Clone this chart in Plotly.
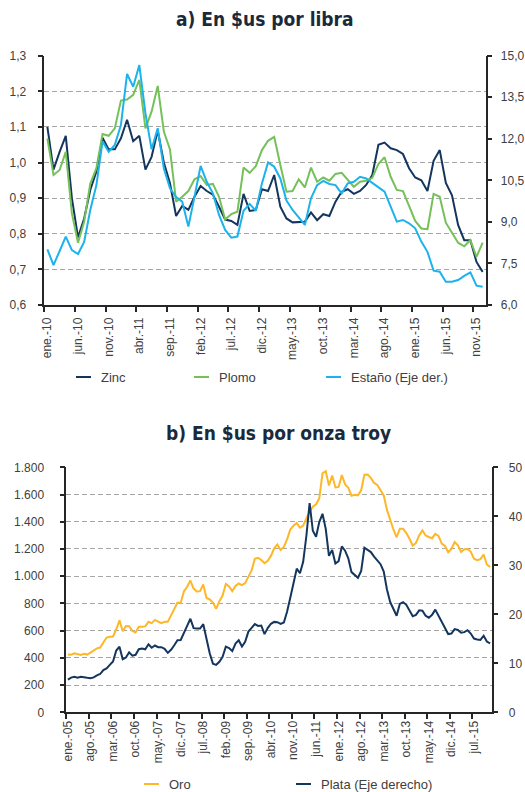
import plotly.graph_objects as go

# ---------------- Data: a) En $us por libra (ene-10 .. dic-15, monthly) ----------------
zinc = [1.10, 0.98, 1.03, 1.075, 0.90, 0.79, 0.843, 0.923, 0.975, 1.07, 1.037, 1.037,
        1.068, 1.12, 1.06, 1.075, 0.98, 1.016, 1.09, 1.00, 0.942, 0.85, 0.878, 0.867,
        0.904, 0.934, 0.92, 0.91, 0.876, 0.84, 0.836, 0.825, 0.912, 0.864, 0.867, 0.925,
        0.92, 0.965, 0.876, 0.843, 0.832, 0.834, 0.834, 0.86, 0.838, 0.855, 0.85, 0.89,
        0.918, 0.925, 0.912, 0.92, 0.937, 0.965, 1.05, 1.056, 1.04, 1.035, 1.024, 0.984,
        0.958, 0.95, 0.92, 1.005, 1.035, 0.943, 0.908, 0.825, 0.782, 0.782, 0.721, 0.693]
plomo = [1.068, 0.965, 0.979, 1.03, 0.857, 0.775, 0.834, 0.941, 0.984, 1.08, 1.075, 1.096,
         1.174, 1.177, 1.19, 1.232, 1.096, 1.143, 1.215, 1.087, 1.037, 0.89, 0.904, 0.92,
         0.953, 0.962, 0.937, 0.94, 0.904, 0.84, 0.855, 0.862, 0.986, 0.971, 0.99, 1.035,
         1.061, 1.072, 0.993, 0.918, 0.92, 0.953, 0.93, 0.986, 0.946, 0.958, 0.949, 0.968,
         0.971, 0.95, 0.932, 0.946, 0.949, 0.957, 0.996, 1.015, 0.96, 0.923, 0.92, 0.878,
         0.836, 0.815, 0.813, 0.912, 0.904, 0.831, 0.803, 0.775, 0.765, 0.782, 0.735, 0.775]
estano = [8.01, 7.44, 7.95, 8.47, 7.98, 7.84, 8.28, 9.43, 10.33, 11.9, 11.53, 11.78,
          12.5, 14.34, 13.88, 14.66, 12.92, 11.62, 12.38, 10.93, 10.21, 9.9, 9.73, 8.83,
          9.91, 11.02, 10.45, 10.03, 9.25, 8.71, 8.43, 8.47, 9.4, 9.65, 9.4, 10.39,
          11.15, 10.99, 10.57, 9.77, 9.43, 9.15, 8.89, 9.85, 10.33, 10.48, 10.37, 10.33,
          10.03, 10.39, 10.45, 10.63, 10.57, 10.41, 10.25, 10.09, 9.55, 9.01, 9.07, 8.95,
          8.77, 8.29, 7.92, 7.24, 7.2, 6.84, 6.84, 6.9, 7.05, 7.18, 6.7, 6.66]
ticks_a = ["ene.-10", "jun.-10", "nov.-10", "abr.-11", "sep.-11", "feb.-12", "jul.-12",
           "dic.-12", "may.-13", "oct.-13", "mar.-14", "ago.-14", "ene.-15", "jun.-15", "nov.-15"]

# ---------------- Data: b) En $us por onza troy (ene-05 .. dic-15, monthly) ----------------
oro = [424, 423, 434, 429, 422, 430, 424, 438, 456, 470, 476, 510,
       549, 555, 557, 610, 676, 596, 633, 632, 598, 586, 628, 629,
       631, 665, 655, 679, 667, 655, 665, 665, 712, 754, 806, 803,
       889, 922, 968, 909, 888, 890, 939, 839, 829, 806, 760, 816,
       858, 943, 924, 890, 928, 946, 934, 949, 996, 1043, 1127, 1135,
       1118, 1095, 1113, 1149, 1205, 1233, 1193, 1215, 1271, 1343, 1370, 1391,
       1356, 1372, 1424, 1474, 1510, 1528, 1572, 1756, 1772, 1666, 1739, 1652,
       1656, 1743, 1675, 1649, 1591, 1598, 1594, 1631, 1745, 1747, 1722, 1685,
       1671, 1627, 1593, 1487, 1414, 1343, 1286, 1349, 1349, 1317, 1275, 1225,
       1244, 1300, 1336, 1299, 1288, 1279, 1311, 1296, 1239, 1222, 1176, 1201,
       1251, 1227, 1179, 1198, 1199, 1181, 1128, 1117, 1125, 1159, 1086, 1068]
plata = [6.68, 7.08, 7.26, 7.07, 7.25, 7.22, 7.04, 6.96, 7.13, 7.55, 7.81, 8.62,
         8.97, 9.67, 10.37, 12.60, 13.38, 10.83, 11.17, 12.25, 11.56, 11.73, 12.88, 13.02,
         12.85, 13.88, 13.17, 13.63, 13.29, 13.28, 12.94, 12.13, 12.75, 13.69, 14.72, 14.76,
         16.06, 17.65, 19.09, 17.18, 17.08, 17.10, 17.98, 14.87, 12.06, 9.93, 9.69, 10.31,
         11.33, 13.40, 13.12, 12.50, 14.04, 14.70, 13.42, 14.38, 16.47, 17.21, 17.99, 17.62,
         17.71, 15.95, 17.18, 18.07, 18.45, 18.39, 18.04, 18.32, 20.52, 23.36, 26.51, 29.31,
         28.37, 30.72, 36.03, 42.70, 37.05, 35.81, 38.81, 40.51, 37.45, 31.94, 33.14, 30.36,
         30.86, 33.84, 32.98, 31.42, 28.61, 28.02, 27.45, 28.85, 33.58, 33.14, 32.70, 31.76,
         31.06, 30.22, 28.71, 25.07, 22.50, 21.04, 19.71, 22.13, 22.49, 21.93, 20.78, 19.62,
         19.87, 20.81, 20.72, 19.71, 19.30, 19.89, 20.95, 19.73, 18.41, 17.14, 15.97, 16.08,
         16.99, 16.80, 16.25, 16.36, 16.75, 16.08, 15.05, 14.86, 14.79, 15.63, 14.45, 14.06]
ticks_b = ["ene.-05", "ago.-05", "mar.-06", "oct.-06", "may.-07", "dic.-07", "jul.-08",
           "feb.-09", "sep.-09", "abr.-10", "nov.-10", "jun.-11", "ene.-12", "ago.-12",
           "mar.-13", "oct.-13", "may.-14", "dic.-14", "jul.-15"]

# ---------------- Styles ----------------
C_ZINC = "#14365E"
C_PLOMO = "#76C05A"
C_ESTANO = "#1CB3EC"
C_ORO = "#FDB727"
C_PLATA = "#14365E"
AX = "#262626"
GRID = "#A6A6A6"
TXT = "#404040"
FONT = "Arial, Liberation Sans, sans-serif"
TFONT = "DejaVu Sans Condensed, Liberation Sans Narrow, Arial Narrow, sans-serif"

W, H = 525, 792
def px_x(a, b):
    return [a / W, b / W]
def px_y(top, bottom):
    return [1 - bottom / H, 1 - top / H]

xa = list(range(len(zinc)))
xb = list(range(len(oro)))

series = [
    # name, x, y, color, xaxis, yaxis, legend text x (px), legend y (px)
    ("Zinc", xa, zinc, C_ZINC, "x", "y", 99, 377),
    ("Plomo", xa, plomo, C_PLOMO, "x", "y", 217, 377),
    ("Estaño (Eje der.)", xa, estano, C_ESTANO, "x", "y2", 349, 377),
    ("Oro", xb, oro, C_ORO, "x2", "y3", 167, 784),
    ("Plata (Eje derecho)", xb, plata, C_PLATA, "x2", "y4", 319, 784),
]

fig = go.Figure()
shapes, annotations = [], []
for name, xs, ys, col, xax, yax_, lx, ly in series:
    fig.add_trace(go.Scatter(x=xs, y=ys, name=name, mode="lines", showlegend=False,
                             line=dict(color=col, width=2), xaxis=xax, yaxis=yax_))
    # manual legend entry (short line + text)
    shapes.append(dict(type="line", xref="paper", yref="paper",
                       x0=(lx - 23) / W, x1=(lx - 8) / W, y0=1 - ly / H, y1=1 - ly / H,
                       line=dict(color=col, width=2)))
    annotations.append(dict(text=name, x=lx / W, y=1 - ly / H, xref="paper", yref="paper",
                            showarrow=False, xanchor="left", yanchor="middle",
                            font=dict(family=FONT, size=13, color=TXT)))

tickfont = dict(family=FONT, size=12, color=TXT)

def xcat(domain, n, step, labels, anchor, standoff):
    return dict(domain=domain, anchor=anchor, range=[-0.5, n - 0.5],
                tickmode="array", tickvals=list(range(0, n, step))[:len(labels)], ticktext=labels,
                tickangle=-90, ticks="", showgrid=False, zeroline=False,
                showline=True, linecolor=AX, linewidth=1.5, tickfont=tickfont,
                ticklabelstandoff=standoff,
                minor=dict(tickmode="linear", tick0=-0.5, dtick=step, ticks="outside",
                           ticklen=5, tickcolor=AX, tickwidth=1.5, showgrid=False),
                automargin=False, fixedrange=True)

def yax(domain, rng, dtick, fmt, anchor, standoff, side="left", overlaying=None, grid=True):
    d = dict(domain=domain, anchor=anchor, range=rng, dtick=dtick, tick0=rng[0],
             tickformat=fmt, side=side, ticks="outside", ticklen=5, tickcolor=AX, tickwidth=1.5,
             showline=True, linecolor=AX, linewidth=1.5, zeroline=False,
             showgrid=grid, gridcolor=GRID, griddash="5px,3px", gridwidth=1,
             ticklabelstandoff=standoff,
             tickfont=tickfont, automargin=False, fixedrange=True)
    if overlaying:
        d["overlaying"] = overlaying
    return d

dxa = px_x(44.3, 485.7)
dya = px_y(55.7, 305)
dxb = px_x(66.3, 491.7)
dyb = px_y(467.3, 712.3)

annotations += [
    dict(text="<b>a) En $us por libra</b>", x=(dxa[0] + dxa[1]) / 2, y=1 - 19 / H,
         xref="paper", yref="paper", showarrow=False, xanchor="center", yanchor="middle",
         font=dict(family=TFONT, size=19, color="#1B2A3A")),
    dict(text="<b>b) En $us por onza troy</b>", x=(dxb[0] + dxb[1]) / 2, y=1 - 433 / H,
         xref="paper", yref="paper", showarrow=False, xanchor="center", yanchor="middle",
         font=dict(family=TFONT, size=19, color="#1B2A3A")),
]

fig.update_layout(
    width=W, height=H, template="none",
    margin=dict(l=0, r=0, t=0, b=0),
    paper_bgcolor="white", plot_bgcolor="white",
    separators=",.",
    font=dict(family=FONT, size=12, color=TXT),
    xaxis=xcat(dxa, len(zinc), 5, ticks_a, "y", 6),
    yaxis=yax(dya, [0.6, 1.3], 0.1, ".1f", "x", 9),
    yaxis2=yax(dya, [6, 15], 1.5, ".1f", "x", 6, side="right", overlaying="y", grid=False),
    xaxis2=xcat(dxb, len(oro), 7, ticks_b, "y3", 2),
    yaxis3=yax(dyb, [0, 1800], 200, ",d", "x2", 13),
    yaxis4=yax(dyb, [0, 50], 10, "d", "x2", 8, side="right", overlaying="y3", grid=False),
    showlegend=False,
    shapes=shapes,
    annotations=annotations,
)

fig.write_html("out.html", config={"displayModeBar": False},
               post_script="document.body.style.margin='0';document.body.style.overflow='hidden';")
